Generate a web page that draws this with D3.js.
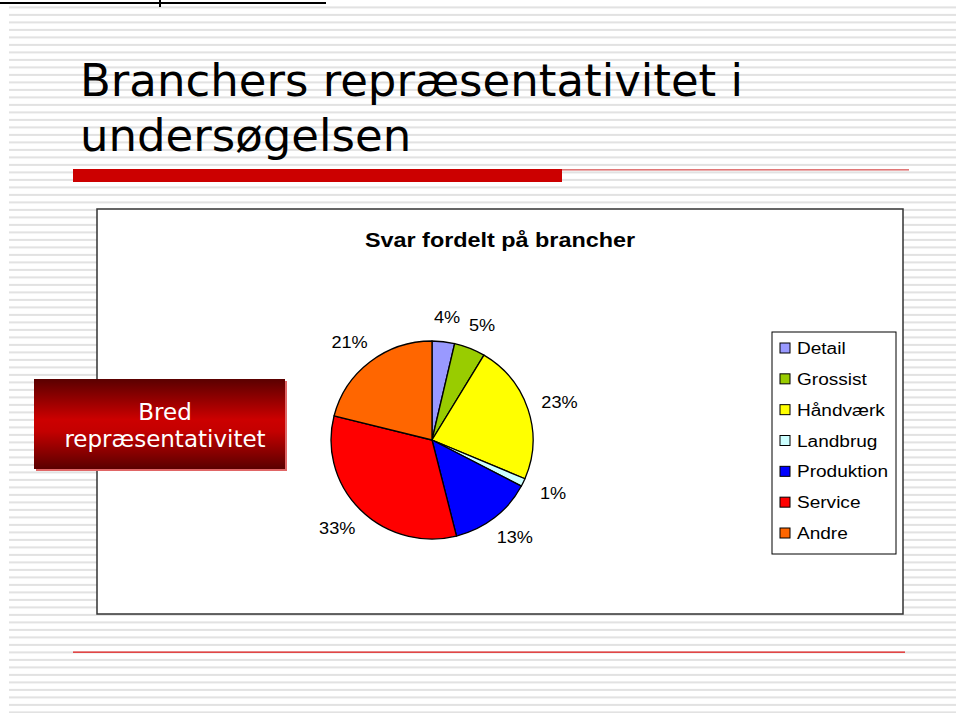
<!DOCTYPE html>
<html>
<head>
<meta charset="utf-8">
<script src="https://cdn.jsdelivr.net/npm/d3@7"></script>
<style>
	html, body { margin: 0; padding: 0; background: #fff; }
	svg { display: block; }
</style>
</head>
<body>
<div id="slide"></div>
<script>
	// slide texts
	const titleLines = ["Branchers repræsentativitet i", "undersøgelsen"];
	const chartTitle = "Svar fordelt på brancher";
	const calloutLines = ["Bred", "repræsentativitet"];

	// pie data (percent of answers)
	const categories = ["Detail", "Grossist", "Håndværk", "Landbrug", "Produktion", "Service", "Andre"];
	const shares = [3.6, 5.0, 22.8, 1.3, 13.4, 32.8, 21.1];
	const sliceColors = ["#9999ff", "#99cc00", "#ffff00", "#ccffff", "#0000ff", "#ff0000", "#ff6600"];

	const width = 956, height = 713;
	const svg = d3.select("#slide").append("svg")
		.attr("width", width).attr("height", height);

	const defs = svg.append("defs");
	const grad = defs.append("linearGradient").attr("id", "calloutFill")
		.attr("x1", 0).attr("y1", 0).attr("x2", 0).attr("y2", 1);
	grad.append("stop").attr("offset", "0%").attr("stop-color", "#5a0000");
	grad.append("stop").attr("offset", "45%").attr("stop-color", "#cc0000");
	grad.append("stop").attr("offset", "58%").attr("stop-color", "#c40000");
	grad.append("stop").attr("offset", "100%").attr("stop-color", "#5a0000");

	// striped background
	svg.append("g").selectAll("rect")
		.data(d3.range(95))
		.join("rect")
		.attr("x", 9).attr("width", width - 9)
		.attr("y", i => 6.4 + i * 7.5).attr("height", 2)
		.attr("fill", "#e2e2e2");

	// leftover line at the very top
	svg.append("rect").attr("x", 0).attr("y", 2).attr("width", 326).attr("height", 2).attr("fill", "#000");
	svg.append("rect").attr("x", 159).attr("y", 0).attr("width", 2).attr("height", 7).attr("fill", "#000");

	// title
	svg.append("text")
		.attr("x", 80).attr("y", 96)
		.attr("font-family", "DejaVu Sans, Verdana, sans-serif")
		.attr("font-size", 45)
		.attr("fill", "#000")
		.selectAll("tspan")
		.data(titleLines)
		.join("tspan")
		.attr("x", 80)
		.attr("dy", (d, i) => i === 0 ? 0 : 55)
		.text(d => d);

	// red rule under title
	svg.append("rect").attr("x", 73).attr("y", 169).attr("width", 489).attr("height", 13).attr("fill", "#cc0000");
	svg.append("rect").attr("x", 562).attr("y", 169).attr("width", 347).attr("height", 1.6).attr("fill", "#e07878");
	svg.append("rect").attr("x", 73).attr("y", 651.5).attr("width", 832).attr("height", 1.3).attr("fill", "#e02020");

	// chart frame
	svg.append("rect")
		.attr("x", 97).attr("y", 209).attr("width", 806).attr("height", 405)
		.attr("fill", "#fff").attr("stroke", "#333").attr("stroke-width", 1.5);

	// helper: text stretched horizontally around its anchor
	function stretchedText(parent, x, y, txt, sx, attrs) {
		const t = parent.append("text")
			.attr("transform", `translate(${x},${y}) scale(${sx},1)`)
			.text(txt);
		Object.entries(attrs).forEach(([k, v]) => t.attr(k, v));
		return t;
	}

	stretchedText(svg, 500, 247, chartTitle, 1.2, {
		"font-family": "Liberation Sans, Arial, sans-serif",
		"font-size": 19.5, "font-weight": "bold", "text-anchor": "middle", fill: "#000"
	});

	// pie
	const cx = 432, cy = 440, radius = 99;
	const pie = d3.pie().sort(null).value(d => d);
	const arcs = pie(shares);
	const arc = d3.arc().innerRadius(0).outerRadius(radius);
	const pieG = svg.append("g").attr("transform", `translate(${cx},${cy}) scale(1.02,1)`);
	pieG.selectAll("path")
		.data(arcs)
		.join("path")
		.attr("d", arc)
		.attr("fill", (d, i) => sliceColors[i])
		.attr("stroke", "#000").attr("stroke-width", 1.3).attr("stroke-linejoin", "round");

	const pct = d3.format(".0f");
	const labelG = svg.append("g").attr("transform", `translate(${cx},${cy})`);
	arcs.forEach(d => {
		const a = (d.startAngle + d.endAngle) / 2;
		const lx = Math.sin(a) * 134, ly = -Math.cos(a) * 124;
		stretchedText(labelG, lx, ly + 6, pct(d.data) + "%", 1.1, {
			"font-family": "Liberation Sans, Arial, sans-serif",
			"font-size": 16.5, "text-anchor": "middle", fill: "#000"
		});
	});

	// legend
	const legend = svg.append("g");
	legend.append("rect")
		.attr("x", 772).attr("y", 332).attr("width", 124).attr("height", 222)
		.attr("fill", "#fff").attr("stroke", "#000").attr("stroke-width", 1);
	const rowY = d3.scalePoint().domain(categories).range([348, 533]);
	categories.forEach((c, i) => {
		legend.append("rect")
			.attr("x", 780).attr("y", rowY(c) - 5).attr("width", 10).attr("height", 10)
			.attr("fill", sliceColors[i]).attr("stroke", "#000").attr("stroke-width", 1);
		stretchedText(legend, 797, rowY(c) + 6, c, 1.19, {
			"font-family": "Liberation Sans, Arial, sans-serif",
			"font-size": 16, fill: "#000"
		});
	});

	// callout box
	svg.append("rect").attr("x", 36).attr("y", 381).attr("width", 251).attr("height", 90).attr("fill", "#e06666");
	svg.append("rect").attr("x", 34).attr("y", 379).attr("width", 251).attr("height", 90).attr("fill", "url(#calloutFill)");
	svg.append("text")
		.attr("font-family", "DejaVu Sans, Verdana, sans-serif")
		.attr("font-size", 23).attr("fill", "#fff").attr("text-anchor", "middle")
		.selectAll("tspan")
		.data(calloutLines)
		.join("tspan")
		.attr("x", 165)
		.attr("y", (d, i) => 420 + i * 27)
		.text(d => d);
</script>
</body>
</html>
